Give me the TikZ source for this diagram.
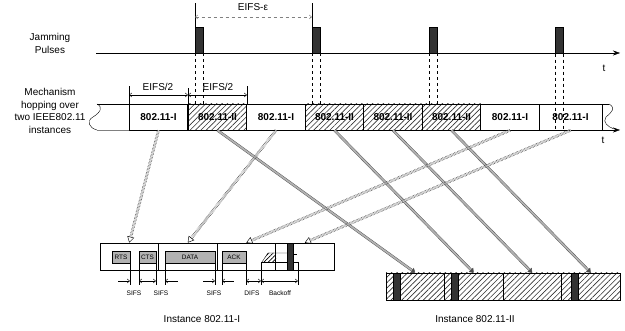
\documentclass[tikz,border=0pt]{standalone}
\usepackage{fontspec}
\setmainfont{Liberation Sans}
\usetikzlibrary{arrows.meta,patterns.meta}

\begin{document}
\begin{tikzpicture}[x=1pt,y=-1pt,>={Straight Barb[length=2.5pt,width=4pt]},
  lbl/.style={font=\fontsize{10}{12.5}\selectfont},
  tiny/.style={font=\fontsize{6.6}{8}\selectfont},
  slot/.style={draw,line width=0.6pt,minimum width=58.5pt,minimum height=26pt,inner sep=0pt,font=\fontsize{10}{12}\selectfont\bfseries},
  hatch/.style={pattern={Lines[angle=45,distance=3.8pt,line width=0.65pt]},pattern color=black!80},
  pulse/.style={draw,fill=black!80,minimum width=8pt,minimum height=26pt,inner sep=0pt},
  seg/.style={draw,line width=0.6pt,minimum width=58.5pt,minimum height=27pt,inner sep=0pt},
  pkt/.style={draw,fill=black!30,minimum height=12pt,inner sep=0pt,font=\fontsize{6.4}{8}\selectfont},
  toI/.style={double=white,double distance=1.8pt,line width=0.45pt,densely dotted,-{Triangle[open,length=6pt,width=7pt]}},
  toII/.style={draw=black!70,double=black!30,double distance=1.8pt,line width=0.4pt,-{Triangle[length=4pt,width=6pt]}}]
\useasboundingbox (0,0) rectangle (625,331);

% jamming pulses
\node[lbl,align=center] (jam) at (50,43.5) {Jamming\\Pulses};
\draw[-{Stealth[length=7pt,width=5pt]}] (96,53) -- (620,53);
\node[lbl] (t1) at (604,68) {t};
\node[pulse] (p1) at (199,40) {};
\node[pulse] (p2) at (316,40) {};
\node[pulse] (p3) at (433,40) {};
\node[pulse] (p4) at (559,40.5) {};
\draw (p1.north west) -- ++(0,-24);
\draw (p2.north west) -- ++(0,-24);
\draw[gray,dashed,<->] (195,17) -- (312,17);
\node[lbl] (eps) at (253,7) {EIFS-ε};

% hopping row
\node[lbl,align=center] (mech) at (50,111) {Mechanism\\hopping over\\two IEEE802.11\\instances};
\node[slot] (s1) at (158.5,117) {802.11-I};
\node[slot,hatch] (s2) at (217.5,117) {802.11-II};
\node[slot] (s3) at (276,117) {802.11-I};
\node[slot,hatch] (s4) at (334.5,117) {802.11-II};
\node[slot,hatch] (s5) at (393,117) {802.11-II};
\node[slot,hatch] (s6) at (451.5,117) {802.11-II};
\node[slot] (s7) at (510,117) {802.11-I};
\node[slot,minimum width=63pt] (s8) at (570.5,117) {802.11-I};
\draw (97,104) -- (609,104);
\draw (97,104) .. controls (103,107) and (101,112) .. (93,117) .. controls (86,121) and (89,128) .. (97,130);
\draw (609,104) .. controls (616,108) and (612,112) .. (606,117) .. controls (602,122) and (608,127) .. (614,129);
\draw[gray] (97,130) -- (129,130);
\draw[-{Stealth[length=7pt,width=5pt]}] (129,130) -- (620,130);
\node[lbl] (t2) at (603,140) {t};
\draw (s1.north west) -- ++(0,-18);
\draw (s2.north east) -- ++(0,-18);
\draw[line width=1pt] (s1.south east) -- ++(0,-42);
\draw[<->] (129,95) -- (188,95);
\draw[<->] (188,95) -- (247,95);
\node[lbl] (h1) at (158,87) {EIFS/2};
\node[lbl] (h2) at (218,87) {EIFS/2};
\draw[dashed] (p1.south west) -- (p1.south west |- s1.north);
\draw[dashed] (p1.south east) -- (p1.south east |- s1.north);
\draw[dashed] (p2.south west) -- (p2.south west |- s1.north);
\draw[dashed] (p2.south east) -- (p2.south east |- s1.north);
\draw[dashed] (p3.south west) -- (p3.south west |- s1.north);
\draw[dashed] (p3.south east) -- (p3.south east |- s1.north);
\draw[dashed] (p4.south west) -- (p4.south west |- s8.south);
\draw[dashed] (p4.south east) -- (p4.south east |- s8.south);

% instance 802.11-I
\node[seg] (f1) at (129.25,256.5) {};
\node[seg] (f2) at (187.75,256.5) {};
\node[seg] (f3) at (246.25,256.5) {};
\node[seg] (f4) at (304.75,256.5) {};
\node[pkt,minimum width=18pt] (rts) at (121,257) {RTS};
\node[pkt,minimum width=17pt] (cts) at (147.5,257) {CTS};
\node[pkt,minimum width=50pt] (data) at (190,257) {DATA};
\node[pkt,minimum width=24pt] (ack) at (234,257) {ACK};
\draw (rts.south east) -- ++(0,22);
\draw (cts.south west) -- ++(0,22);
\draw (cts.south east) -- ++(0,22);
\draw (data.south west) -- ++(0,22);
\draw (data.south east) -- ++(0,22);
\draw (ack.south west) -- ++(0,22);
\draw (ack.south east) -- ++(0,22);
\draw (261,262) -- (261,285);
\draw (298,262) -- (298,285);
\fill[pattern={Lines[angle=45,distance=3pt,line width=0.8pt]}] (262,262) -- (268,253) -- (276,253) -- (276,262) -- cycle;
\draw (262,262) -- (268,253) -- (287,253);
\draw (262,262) -- (287,262);
\filldraw[fill=black!80] (287,243) rectangle (293,270);
\draw (293,254) -- (297,254);
\draw (293,262) -- (298,262) -- (298,270);
\draw[->] (118,281) -- (130,281);
\draw[<->] (139,281) -- (156,281);
\draw[<-] (165,281) -- (178,281);
\draw[->] (203,281) -- (215,281);
\draw[<-] (222,281) -- (234,281);
\draw[<->] (246,281) -- (261,281);
\draw[<->] (261,281) -- (298,281);
\node[tiny] at (134,293) {SIFS};
\node[tiny] at (161,293) {SIFS};
\node[tiny] at (214,293) {SIFS};
\node[tiny] at (252,293) {DIFS};
\node[tiny] at (280,293) {Backoff};
\node[font=\fontsize{10}{12}\selectfont] (n1) at (202,319) {Instance 802.11-I};

% instance 802.11-II
\node[seg,hatch] (g1) at (415.25,286.5) {};
\node[seg,hatch] (g2) at (473.75,286.5) {};
\node[seg,hatch] (g3) at (532.25,286.5) {};
\node[seg,hatch] (g4) at (590.75,286.5) {};
\filldraw[fill=black!80] (393,273) rectangle (400,300);
\filldraw[fill=black!80] (451,273) rectangle (458,300);
\filldraw[fill=black!80] (571,273) rectangle (578,300);
\node[font=\fontsize{10}{12}\selectfont] (n2) at (475,319) {Instance 802.11-II};

% hops
\draw[toII] (s2.south) -- (g1.north);
\draw[toII] (s4.south) -- (g2.north);
\draw[toII] (s5.south) -- (g3.north);
\draw[toII] (s6.south) -- (g4.north);
\draw[toI] (s1.south) -- (f1.north);
\draw[toI] (s3.south) -- (f2.north);
\draw[toI] (s7.south) -- (f3.north);
\draw[toI] (s8.south) -- (f4.north);
\end{tikzpicture}
\end{document}
